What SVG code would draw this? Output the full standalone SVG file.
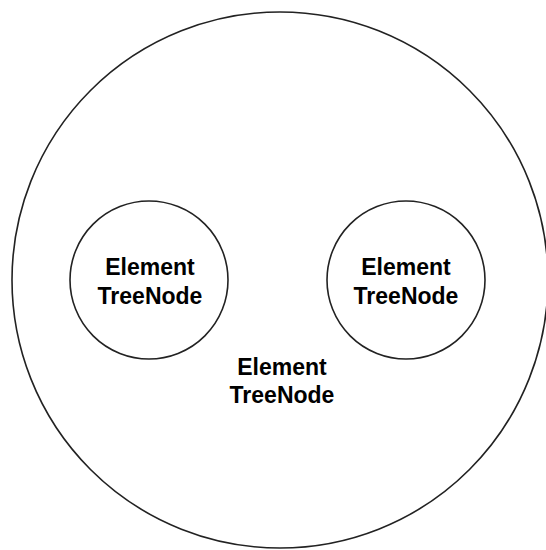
<svg xmlns="http://www.w3.org/2000/svg" width="546" height="550" viewBox="0 0 546 550">
<style>
.node{fill:#ffffff;stroke:#222222;stroke-width:1.6}
.lbl{font-family:"Liberation Sans",Arial,sans-serif;font-weight:bold;font-size:23px;fill:#000000;text-anchor:middle}
</style>
<rect width="546" height="550" fill="#ffffff"/>
<g id="outer">
<circle class="node" cx="280" cy="280" r="268"/>
<text class="lbl" x="282" y="375">Element</text>
<text class="lbl" x="282" y="403">TreeNode</text>
</g>
<g id="left">
<circle class="node" cx="149" cy="280" r="79"/>
<text class="lbl" x="150" y="275">Element</text>
<text class="lbl" x="150" y="304">TreeNode</text>
</g>
<g id="right">
<circle class="node" cx="406" cy="280" r="79"/>
<text class="lbl" x="406" y="275">Element</text>
<text class="lbl" x="406" y="304">TreeNode</text>
</g>
<g id="connectors"></g>
</svg>
